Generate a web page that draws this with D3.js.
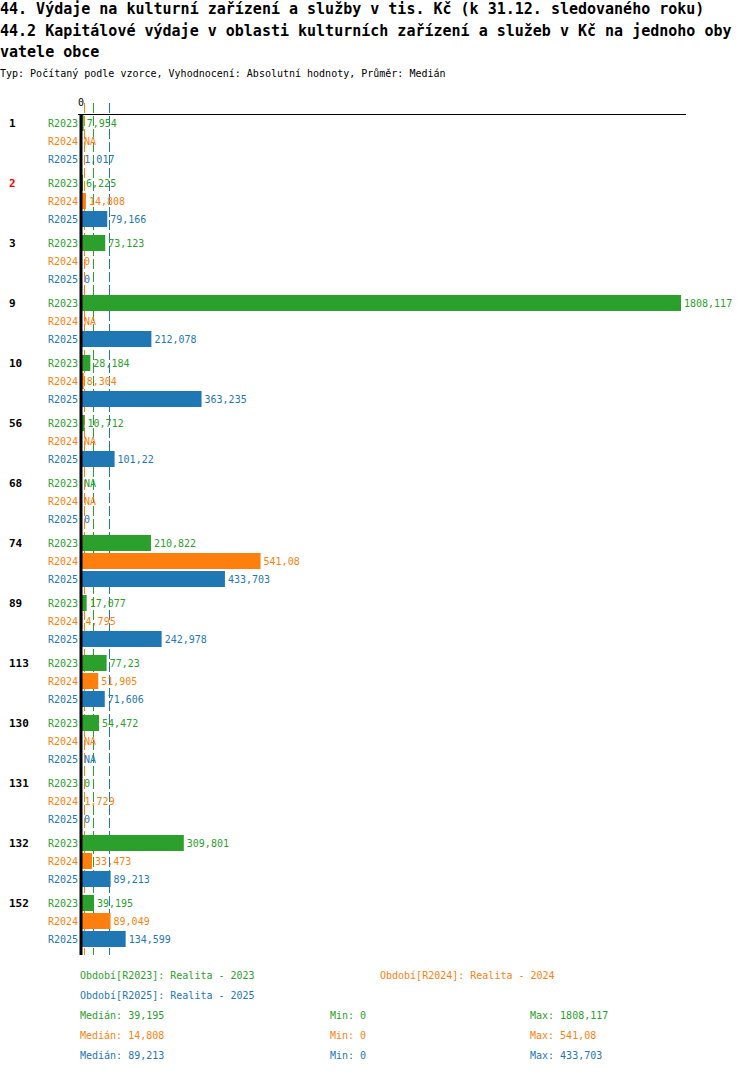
<!DOCTYPE html>
<html>
<head>
<meta charset="utf-8">
<script src="https://cdn.jsdelivr.net/npm/d3@7"></script>
<style>
  body { margin: 0; background: #fff; }
  svg { display: block; font-family: "DejaVu Sans Mono", monospace; }
</style>
</head>
<body>
<svg id="chart"></svg>
<script>
// values in tis. Kč, null = NA
const groups = ["1", "2", "3", "9", "10", "56", "68", "74", "89", "113", "130", "131", "132", "152"];
const periods = ["R2023", "R2024", "R2025"];
const r2023 = [7.954, 6.225, 73.123, 1808.117, 28.184, 10.712, null, 210.822, 17.077, 77.23, 54.472, 0, 309.801, 39.195];
const r2024 = [null, 14.808, 0, null, 8.304, null, null, 541.08, 4.795, 51.905, null, 1.729, 33.473, 89.049];
const r2025 = [1.017, 79.166, 0, 212.078, 363.235, 101.22, 0, 433.703, 242.978, 71.606, null, 0, 89.213, 134.599];
const highlighted = ["2"];
const periodNames = ["Realita - 2023", "Realita - 2024", "Realita - 2025"];
const colors = ["#2ca02c", "#ff7f0e", "#1f77b4"];

const titleLines = [
  "44. Výdaje na kulturní zařízení a služby v tis. Kč (k 31.12. sledovaného roku)",
  "44.2 Kapitálové výdaje v oblasti kulturních zařízení a služeb v Kč na jednoho oby",
  "vatele obce"
];
const subtitle = "Typ: Počítaný podle vzorce, Vyhodnocení: Absolutní hodnoty, Průměr: Medián";

const width = 750, height = 1074;
const margin = { top: 114, left: 81, right: 69 };
const series = [r2023, r2024, r2025];

const fmt = v => v == null ? "NA" : String(+v.toFixed(3)).replace(".", ",");

const svg = d3.select("#chart")
  .attr("width", width)
  .attr("height", height)
  .attr("viewBox", [0, 0, width, height]);

// scales
const x = d3.scaleLinear()
  .domain([0, d3.max(series.flat())])
  .range([margin.left, width - margin.right]);

const yGroup = d3.scaleBand()
  .domain(groups)
  .range([margin.top, margin.top + groups.length * 60]);

const yRow = d3.scaleBand()
  .domain(periods)
  .range([0, 54])
  .paddingInner(2 / 18)
  .paddingOuter(1 / 18);

const bottom = margin.top + groups.length * 60 + 1;

// titles
svg.append("g")
  .attr("font-weight", "bold")
  .attr("font-size", 15)
  .selectAll("text")
  .data(titleLines)
  .join("text")
  .attr("x", 0)
  .attr("y", (d, i) => 14 + i * 21.5)
  .text(d => d);

svg.append("text")
  .attr("x", 0)
  .attr("y", 77)
  .attr("font-size", 10)
  .text(subtitle);

// median lines (behind the bars)
const medians = series.map(s => d3.median(s.filter(v => v != null)));
svg.append("g")
  .selectAll("line")
  .data(medians)
  .join("line")
  .attr("x1", d => Math.round(x(d) - 1.5) + 0.5)
  .attr("x2", d => Math.round(x(d) - 1.5) + 0.5)
  .attr("y1", margin.top - 11)
  .attr("y2", bottom)
  .attr("stroke", (d, i) => colors[i])
  .attr("stroke-width", 1)
  .attr("stroke-dasharray", "10,3");

// rows
const rows = [];
groups.forEach((g, gi) => {
  periods.forEach((p, pi) => {
    rows.push({ group: g, period: p, pi, value: series[pi][gi] });
  });
});

svg.append("g")
  .selectAll("rect")
  .data(rows.filter(d => d.value != null && d.value > 0))
  .join("rect")
  .attr("x", x(0))
  .attr("y", d => yGroup(d.group) + yRow(d.period))
  .attr("width", d => x(d.value) - x(0))
  .attr("height", yRow.bandwidth())
  .attr("fill", d => colors[d.pi]);

// value labels
svg.append("g")
  .attr("font-size", 10)
  .selectAll("text")
  .data(rows)
  .join("text")
  .attr("x", d => x(d.value == null ? 0 : d.value) + 3)
  .attr("y", d => yGroup(d.group) + yRow(d.period) + yRow.bandwidth() / 2)
  .attr("dy", "0.35em")
  .attr("fill", d => colors[d.pi])
  .text(d => fmt(d.value));

// period labels
svg.append("g")
  .attr("font-size", 10)
  .attr("text-anchor", "end")
  .selectAll("text")
  .data(rows)
  .join("text")
  .attr("x", margin.left - 3)
  .attr("y", d => yGroup(d.group) + yRow(d.period) + yRow.bandwidth() / 2)
  .attr("dy", "0.35em")
  .attr("fill", d => colors[d.pi])
  .text(d => d.period);

// group labels
svg.append("g")
  .attr("font-size", 11)
  .attr("font-weight", "bold")
  .selectAll("text")
  .data(groups)
  .join("text")
  .attr("x", 9)
  .attr("y", d => yGroup(d) + yRow(periods[0]) + yRow.bandwidth() / 2)
  .attr("dy", "0.35em")
  .attr("fill", d => highlighted.includes(d) ? "#ff0000" : "#000")
  .text(d => d);

// top axis
svg.append("line")
  .attr("x1", margin.left - 3)
  .attr("x2", width - margin.right + 5)
  .attr("y1", margin.top + 0.5)
  .attr("y2", margin.top + 0.5)
  .attr("stroke", "#000");

svg.append("text")
  .attr("x", x(0))
  .attr("y", margin.top - 8)
  .attr("font-size", 10)
  .attr("text-anchor", "middle")
  .text("0");

// zero line
svg.append("line")
  .attr("x1", x(0))
  .attr("x2", x(0))
  .attr("y1", margin.top)
  .attr("y2", bottom)
  .attr("stroke", "#000")
  .attr("stroke-width", 3);

// legend
const legend = svg.append("g").attr("font-size", 10);
const legendPos = [[80, 975], [380, 975], [80, 995]];
periods.forEach((p, i) => {
  legend.append("text")
    .attr("x", legendPos[i][0])
    .attr("y", legendPos[i][1])
    .attr("dy", "0.35em")
    .attr("fill", colors[i])
    .text(`Období[${p}]: ${periodNames[i]}`);
});

series.forEach((s, i) => {
  const vals = s.filter(v => v != null);
  const yy = 1015 + i * 20;
  [["Medián", d3.median(vals), 80], ["Min", d3.min(vals), 330], ["Max", d3.max(vals), 530]]
    .forEach(([lab, v, xx]) => {
      legend.append("text")
        .attr("x", xx)
        .attr("y", yy)
        .attr("dy", "0.35em")
        .attr("fill", colors[i])
        .text(`${lab}: ${fmt(v)}`);
    });
});
</script>
</body>
</html>
